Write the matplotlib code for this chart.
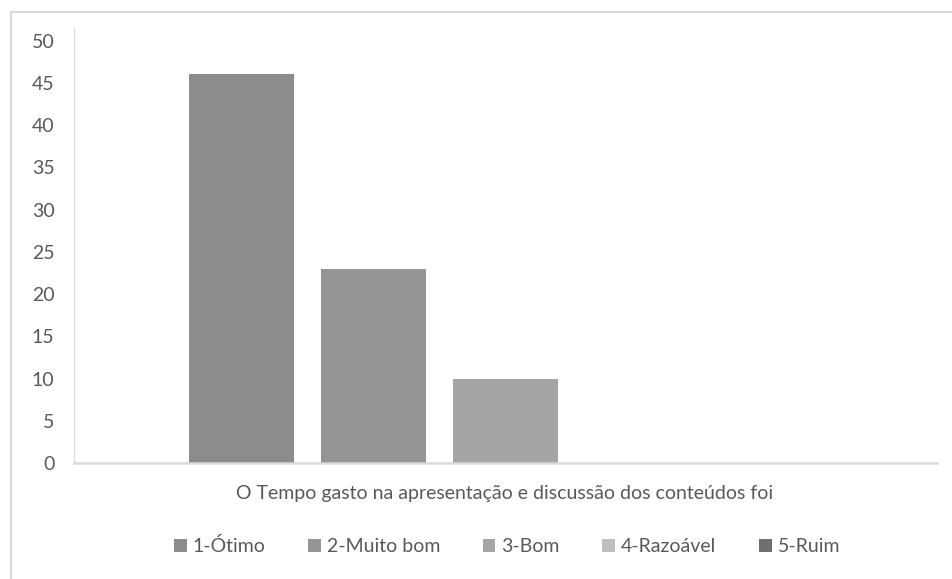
import matplotlib
matplotlib.use("Agg")
import matplotlib.pyplot as plt
from matplotlib.patches import Patch
from matplotlib.lines import Line2D

categories = ["1-Ótimo", "2-Muito bom", "3-Bom", "4-Razoável", "5-Ruim"]
values = [46, 23, 10, 0, 0]
colors = ["#8c8c8c", "#959595", "#a5a5a5", "#bfbfbf", "#6f6f6f"]
yticks = [0, 5, 10, 15, 20, 25, 30, 35, 40, 45, 50]
xlabel = "O Tempo gasto na apresentação e discussão dos conteúdos foi"

plt.rcParams["font.family"] = ["Lato", "DejaVu Sans"]
text_color = "#595959"

fig = plt.figure(figsize=(9.52, 5.79), dpi=100)
ax = fig.add_axes([74 / 952, 1 - 463 / 579, (937 - 74) / 952, (463 - 28) / 579])

x = list(range(len(categories)))
ax.bar(x, values, width=105 / 132, color=colors)

ax.set_xlim(2 - 3.27, 2 + 3.27)
ax.set_ylim(0, 51.5)
ax.set_yticks(yticks)
ax.set_xticks([])
ax.tick_params(axis="y", length=0, labelsize=14, labelcolor=text_color, pad=14)
for s in ["top", "right"]:
    ax.spines[s].set_visible(False)
ax.spines["left"].set_color("#d9d9d9")
ax.spines["left"].set_linewidth(0.8)
ax.spines["bottom"].set_color("#d9d9d9")
ax.spines["bottom"].set_linewidth(1.8)

fig.text(505 / 952, 1 - 493 / 579, xlabel, ha="center", va="center",
         fontsize=14, color=text_color)

handles = [Patch(facecolor=c, edgecolor="none") for c in colors]
fig.legend(handles, categories, loc="center", bbox_to_anchor=(507 / 952, 1 - 546 / 579),
           ncol=5, frameon=False, fontsize=14, labelcolor=text_color,
           handlelength=0.65, handleheight=0.65, handletextpad=0.3, columnspacing=2.2)

# outer chart border (top and left edges visible)
fig.add_artist(Line2D([11 / 952, 1], [1 - 12 / 579] * 2, color="#d9d9d9", lw=1.5))
fig.add_artist(Line2D([11 / 952] * 2, [0, 1 - 12 / 579], color="#d9d9d9", lw=1.5))

fig.savefig("out.png", dpi=100)
